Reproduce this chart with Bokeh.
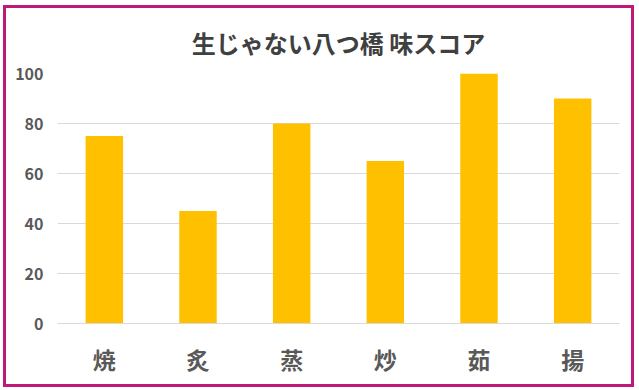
from bokeh.plotting import figure
from bokeh.models import FactorRange, Range1d, ColumnDataSource
from bokeh.embed import file_html
from bokeh.resources import INLINE

categories = ["焼", "炙", "蒸", "炒", "茹", "揚"]
scores = [75, 45, 80, 65, 100, 90]
y_ticks = [0, 20, 40, 60, 80, 100]
title_text = "生じゃない八つ橋 味スコア"

FONT = "Noto Sans CJK JP"

p = figure(width=631, height=382, output_backend="svg", toolbar_location=None,
           x_range=FactorRange(*categories, range_padding=0), y_range=Range1d(0, 100),
           min_border_left=51, min_border_right=18, min_border_top=65, min_border_bottom=67,
           title=title_text)
p.margin = (5, 0, 0, 3)
p.styles = {"border": "3px solid #C0187A"}

src = ColumnDataSource(dict(cat=categories, val=scores))
p.vbar(x="cat", top="val", width=0.4, source=src, fill_color="#FFC000", line_color=None)

p.title.align = "center"
p.title.text_font = FONT
p.title.text_font_size = "24px"
p.title.text_font_style = "bold"
p.title.text_color = "#404040"
p.title.standoff = 28

p.outline_line_color = None
p.background_fill_color = "white"
p.border_fill_color = "white"

p.xgrid.grid_line_color = None
p.ygrid.grid_line_color = "#D9D9D9"
p.ygrid.grid_line_width = 1
p.yaxis.ticker = y_ticks

p.yaxis.axis_line_color = None
p.yaxis.major_tick_line_color = None
p.yaxis.minor_tick_line_color = None
p.yaxis.major_label_standoff = 8
p.yaxis.major_label_text_font = FONT
p.yaxis.major_label_text_font_size = "16px"
p.yaxis.major_label_text_font_style = "bold"
p.yaxis.major_label_text_color = "#595959"

p.xaxis.axis_line_color = "#D9D9D9"
p.xaxis.major_tick_line_color = None
p.xaxis.minor_tick_line_color = None
p.xaxis.major_label_standoff = 12
p.xaxis.major_label_text_font = FONT
p.xaxis.major_label_text_font_size = "23px"
p.xaxis.major_label_text_font_style = "bold"
p.xaxis.major_label_text_color = "#595959"

open("out.html", "w").write(file_html(p, INLINE))
